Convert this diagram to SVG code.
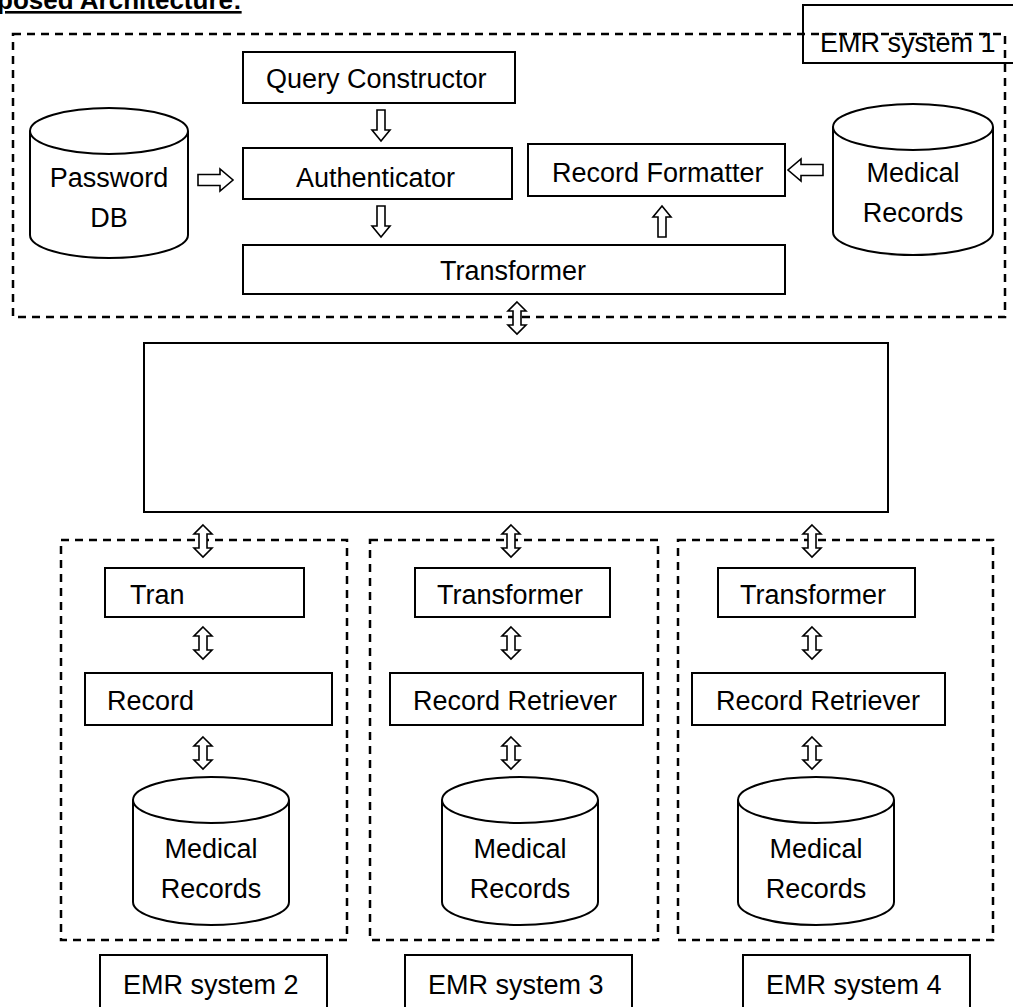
<svg xmlns="http://www.w3.org/2000/svg" xmlns:xlink="http://www.w3.org/1999/xlink" width="1013" height="1007" viewBox="0 0 1013 1007">
<style>
text{font-family:"Liberation Sans",Arial,sans-serif;font-size:27px;fill:#000}
.box{fill:#fff;stroke:#000;stroke-width:2}
.dash{fill:none;stroke:#000;stroke-width:2.5;stroke-dasharray:8 6}
.cyl{fill:#fff;stroke:#000;stroke-width:2}
.arr{fill:#fff;stroke:#000;stroke-width:1.6;stroke-linejoin:miter}
.mid{text-anchor:middle}
.title{font-weight:bold;font-size:26px;text-decoration:underline}
</style>
<defs>
<path id="adown" d="M -4 0 H 4 V 20 H 9 L 0 31 L -9 20 H -4 Z"/>
<path id="aright" d="M 0 -5.5 H 22 V -11 L 35 0 L 22 11 V 5.5 H 0 Z"/>
<path id="adbl" d="M 0 0 L 9 9 H 4 V 23 H 9 L 0 32 L -9 23 H -4 V 9 H -9 Z"/>
</defs>
<rect width="1013" height="1007" fill="#fff"/>
<text class="title" x="-3" y="9">posed Architecture:</text>

<g id="emr1">
<rect class="dash" x="13" y="34" width="992" height="283"/>
<rect class="box" x="803" y="5" width="215" height="58" style="fill:none"/>
<text x="820" y="52">EMR system 1</text>
</g>

<g id="query-constructor">
<rect class="box" x="243" y="52" width="272" height="51"/>
<text x="266" y="88">Query Constructor</text>
</g>
<g id="password-db">
<path class="cyl" d="M 30 131 A 79 23 0 0 1 188 131 V 235 A 79 23 0 0 1 30 235 Z"/>
<path class="cyl" d="M 30 131 A 79 23 0 0 0 188 131" style="fill:none"/>
<text class="mid" x="109" y="187">Password</text>
<text class="mid" x="109" y="227">DB</text>
</g>
<g id="authenticator">
<rect class="box" x="243" y="148" width="269" height="51"/>
<text x="296" y="187">Authenticator</text>
</g>
<g id="record-formatter">
<rect class="box" x="528" y="144" width="257" height="52"/>
<text x="552" y="182">Record Formatter</text>
</g>
<g id="medical-records-1">
<path class="cyl" d="M 833 127 A 80 23 0 0 1 993 127 V 232 A 80 23 0 0 1 833 232 Z"/>
<path class="cyl" d="M 833 127 A 80 23 0 0 0 993 127" style="fill:none"/>
<text class="mid" x="913" y="182">Medical</text>
<text class="mid" x="913" y="222">Records</text>
</g>
<g id="transformer-1">
<rect class="box" x="243" y="245" width="542" height="49"/>
<text class="mid" x="513" y="280">Transformer</text>
</g>

<g id="hub">
<rect class="box" x="144" y="343" width="744" height="169"/>
</g>

<g id="emr2">
<rect class="dash" x="61" y="540" width="286" height="400"/>
<rect class="box" x="105" y="568" width="199" height="49"/>
<text x="130" y="604">Tran</text>
<rect class="box" x="85" y="673" width="247" height="52"/>
<text x="107" y="710">Record</text>
<path class="cyl" d="M 133 800 A 78 23 0 0 1 289 800 V 902 A 78 23 0 0 1 133 902 Z"/>
<path class="cyl" d="M 133 800 A 78 23 0 0 0 289 800" style="fill:none"/>
<text class="mid" x="211" y="858">Medical</text>
<text class="mid" x="211" y="898">Records</text>
</g>
<g id="emr3">
<rect class="dash" x="370" y="540" width="288" height="400"/>
<rect class="box" x="415" y="568" width="195" height="49"/>
<text x="437" y="604">Transformer</text>
<rect class="box" x="390" y="673" width="253" height="52"/>
<text x="413" y="710">Record Retriever</text>
<path class="cyl" d="M 442 800 A 78 23 0 0 1 598 800 V 902 A 78 23 0 0 1 442 902 Z"/>
<path class="cyl" d="M 442 800 A 78 23 0 0 0 598 800" style="fill:none"/>
<text class="mid" x="520" y="858">Medical</text>
<text class="mid" x="520" y="898">Records</text>
</g>
<g id="emr4">
<rect class="dash" x="678" y="540" width="315" height="400"/>
<rect class="box" x="718" y="568" width="197" height="49"/>
<text x="740" y="604">Transformer</text>
<rect class="box" x="692" y="673" width="253" height="52"/>
<text x="716" y="710">Record Retriever</text>
<path class="cyl" d="M 738 800 A 78 23 0 0 1 894 800 V 902 A 78 23 0 0 1 738 902 Z"/>
<path class="cyl" d="M 738 800 A 78 23 0 0 0 894 800" style="fill:none"/>
<text class="mid" x="816" y="858">Medical</text>
<text class="mid" x="816" y="898">Records</text>
</g>

<g id="label-emr2"><rect class="box" x="100" y="955" width="227" height="60"/><text x="123" y="994">EMR system 2</text></g>
<g id="label-emr3"><rect class="box" x="405" y="955" width="227" height="60"/><text x="428" y="994">EMR system 3</text></g>
<g id="label-emr4"><rect class="box" x="743" y="955" width="227" height="60"/><text x="766" y="994">EMR system 4</text></g>

<g id="connectors" class="arr">
<use href="#adown" x="381" y="110"/>
<use href="#aright" x="198" y="180"/>
<use href="#adown" x="381" y="206"/>
<use href="#adown" transform="translate(662 237) scale(1 -1)"/>
<use href="#aright" transform="translate(823 170) scale(-1 1)"/>
<use href="#adbl" x="517" y="302"/>
<use href="#adbl" x="203" y="525"/>
<use href="#adbl" x="511" y="525"/>
<use href="#adbl" x="812" y="525"/>
<use href="#adbl" x="203" y="627"/>
<use href="#adbl" x="511" y="627"/>
<use href="#adbl" x="812" y="627"/>
<use href="#adbl" x="203" y="737"/>
<use href="#adbl" x="511" y="737"/>
<use href="#adbl" x="812" y="737"/>
</g>
</svg>
